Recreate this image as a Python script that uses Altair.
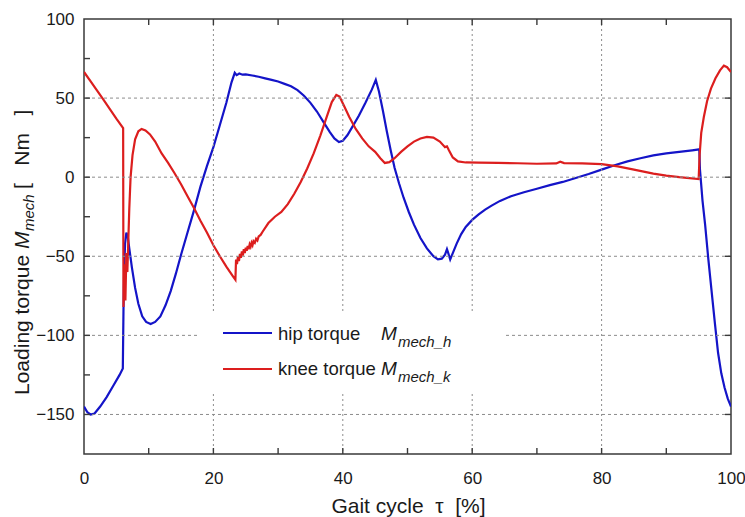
import altair as alt
import pandas as pd

# Hip loading torque over the gait cycle
hip_x = [0, 0.5, 1.0, 1.6, 2.5, 3.5, 4.5, 5.5, 6.0, 6.1, 6.2, 6.35, 6.55, 6.75, 7.0,
         7.4, 7.9, 8.4, 9.0, 9.6, 10.3, 11.0, 11.8, 12.6, 13.4, 14.2, 15.0, 16.0,
         17.0, 18.0, 19.0, 20.0, 21.0, 22.0, 22.8, 23.3, 23.6, 24.0, 24.5, 25.0,
         26.0, 27.0, 28.0, 29.0, 30.0, 31.0, 32.0, 33.0, 34.0, 35.0, 36.0, 37.0,
         38.0, 38.7, 39.4, 40.0, 40.7, 41.5, 42.5, 43.5, 44.5, 45.1, 45.6, 46.2,
         46.8, 47.4, 48.0, 48.7, 49.4, 50.2, 51.0, 52.0, 53.0, 54.0, 54.7, 55.3,
         55.8, 56.1, 56.3, 56.6, 57.0, 57.6, 58.3, 59.0, 60.0, 61.0, 62.0, 63.0,
         64.3, 66.0, 68.0, 70.0, 72.0, 74.0, 76.0, 78.0, 80.0, 82.0, 84.0, 86.0,
         88.0, 90.0, 92.0, 94.0, 95.1, 95.2, 95.6, 96.0, 96.5, 97.0, 97.5, 98.0,
         98.5, 99.0, 99.5, 100.0]
hip_y = [-145, -148.5, -150, -149.5, -145, -139, -132, -125, -121, -85, -60, -42,
         -35, -37, -45, -57, -70, -80, -88, -91.5, -92.8, -91.5, -88, -81, -72,
         -61, -49, -35, -21, -6, 7, 19, 33, 47, 60, 66, 64.5, 65.5, 64.8, 65, 64.3,
         63.5, 62.5, 61.5, 60.5, 59, 57.5, 55, 51.5, 47, 41.5, 35, 28.5, 24.5,
         22.2, 23, 26.5, 32, 39, 47, 55.5, 61.5, 54, 42, 29, 17, 6, -4, -13, -22,
         -30, -38.5, -45, -50, -52, -51.5, -49, -45.5, -48, -52, -48, -42, -36,
         -31.5, -27, -23.5, -20.5, -18, -15, -12, -9.5, -7.3, -5, -3, -0.5, 2, 4.8,
         7.5, 10, 12, 13.8, 15, 16, 17, 17.6, 5, -15, -30, -52, -72, -92, -111,
         -124, -133, -140, -145]

# Knee loading torque over the gait cycle
knee_x = [0, 1, 2, 3, 4, 5, 6.05, 6.1, 6.25, 6.4, 6.55, 6.7, 6.85, 7.0, 7.2, 7.5,
          7.9, 8.4, 8.9, 9.5, 10.2, 11.0, 12.0, 13.0, 14.0, 15.0, 16.0, 17.0, 18.0,
          19.0, 20.0, 21.0, 22.0, 23.0, 23.4,
          23.5, 23.65, 23.8, 23.95, 24.1, 24.25, 24.4, 24.55, 24.7, 24.85, 25.0,
          25.15, 25.3, 25.45, 25.6, 25.75, 25.9, 26.05, 26.2, 26.4, 26.6, 26.8,
          27.0, 27.3, 27.6,
          28.5, 29.5, 30.5, 31.5,
          32.5, 33.5, 34.5, 35.5, 36.5, 37.5, 38.3, 39.0, 39.5, 40.2, 41.0, 42.0,
          43.0, 44.0, 45.0, 45.8, 46.5, 47.2, 48.0, 49.0, 50.0, 51.0, 52.0, 53.0,
          54.0, 55.0, 55.8, 56.1, 56.4, 57.0, 57.8, 59.0, 61.0, 64.0, 67.0, 70.0,
          73.0, 73.6, 74.2, 77.0, 80.0, 82.5, 85.0, 88.0, 90.0, 92.0, 95.0, 95.15,
          95.4, 95.8, 96.3, 96.9, 97.6, 98.3, 98.9, 99.4, 100.0]
knee_y = [66.5, 60.7, 54.8, 49, 43, 37, 31, -82, -55, -78, -48, -60, -40, -20, 0,
          14, 24, 29, 30.5, 29.5, 27, 22.5, 15, 9, 2.5, -4.5, -12, -19.5, -27.5,
          -35, -43, -50, -56.5, -62.5, -64.8,
          -52, -55, -50, -53, -48.5, -51, -47, -49.5, -45.5, -48, -44.5,
          -46.5, -43.5, -45.5, -42.5, -44, -41.5, -43, -40.5, -41.5, -39, -40,
          -37.5, -36.5, -34.5,
          -29, -25, -22, -17, -10.5, -3, 5.5,
          15, 26, 38, 47.5, 52, 51, 45, 38, 30.5, 24.5, 19.5, 16, 12, 9, 9.5, 12,
          16, 19.5, 22.5, 24.5, 25.5, 25, 22.5, 19, 19.5, 17, 12.5, 10, 9.3, 9.2,
          9, 8.8, 8.5, 8.7, 9.8, 8.9, 8.7, 8.3, 6.8, 4.8, 2.3, 1, 0, -1.2, 14, 28,
          38, 48, 56, 62.5, 67.5, 70.5, 69.5, 66.5]

series_names = ["hip", "knee"]
series_colors = ["#1414c8", "#dc1e1e"]

x_grid = [20, 40, 60, 80]
y_grid = [50, 0, -50, -100, -150]
x_tick_vals = [10, 20, 30, 40, 50, 60, 70, 80, 90]
y_tick_vals = [-150, -125, -100, -75, -50, -25, 0, 25, 50, 75]
y_tick_right = [-150, -100, -50, 0, 50]
x_labels = [0, 20, 40, 60, 80, 100]
y_labels = [-150, -100, -50, 0, 50, 100]

NB = "\u00a0"
legend_labels = ["hip torque", "knee torque"]
legend_subs = ["mech_h", "mech_k"]
x_title = f"Gait cycle{NB}{NB}τ{NB}{NB}[%]"
y_title_parts = ["Loading torque", "M", "mech", f"[{NB*3}Nm{NB*3}]"]

W, H = 647, 435
FONT = "Liberation Sans"
INK = "#1a1a1a"

xs = alt.Scale(domain=[0, 100], nice=False, zero=False)
ys = alt.Scale(domain=[-175, 100], nice=False, zero=False)

# one shared axis definition per channel, reused by every layer
x_axis = alt.Axis(values=x_labels, title=None, grid=False, domain=False, ticks=False,
                  tickSize=0, labelPadding=16, labelFontSize=17, labelFont=FONT,
                  labelColor=INK, labelFlush=False)
y_axis = alt.Axis(values=y_labels, title=None, grid=False, domain=False, ticks=False,
                  tickSize=0, labelPadding=10, labelFontSize=17, labelFont=FONT,
                  labelColor=INK, labelFlush=False)

rows = []
for name, xv, yv in (("hip", hip_x, hip_y), ("knee", knee_x, knee_y)):
    for i, (a, b) in enumerate(zip(xv, yv)):
        rows.append({"series": name, "t": a, "m": b, "i": i})
df = pd.DataFrame(rows)

color_enc = alt.Color("series:N", scale=alt.Scale(domain=series_names, range=series_colors), legend=None)

lines = alt.Chart(df).mark_line(strokeWidth=2.2, clip=True).encode(
    x=alt.X("t:Q", scale=xs, axis=x_axis),
    y=alt.Y("m:Q", scale=ys, axis=y_axis),
    color=color_enc,
    detail="series:N",
    order="i:Q",
)

grid_style = dict(color="#8c8c8c", strokeWidth=1)
vgrid = alt.Chart(pd.DataFrame({"g": x_grid})).mark_rule(strokeDash=[2, 3], **grid_style).encode(
    x=alt.X("g:Q", scale=xs, axis=x_axis))
hgrid = alt.Chart(pd.DataFrame({"g": y_grid})).mark_rule(strokeDash=[3, 3], **grid_style).encode(
    y=alt.Y("g:Q", scale=ys, axis=y_axis))

one = pd.DataFrame({"a": [0]})
legend_bg = alt.Chart(one).mark_rect(fill="white").encode(
    x=alt.value(113), x2=alt.value(421), y=alt.value(294), y2=alt.value(374))

tick_style = dict(color="#3a3a3a", strokeWidth=1.4)
xt = pd.DataFrame({"v": x_tick_vals})
yt = pd.DataFrame({"v": y_tick_vals})
yr = pd.DataFrame({"v": y_tick_right})
ticks_bottom = alt.Chart(xt).mark_rule(**tick_style).encode(
    x=alt.X("v:Q", scale=xs, axis=x_axis), y=alt.value(H), y2=alt.value(H - 6))
ticks_top = alt.Chart(xt).mark_rule(**tick_style).encode(
    x=alt.X("v:Q", scale=xs, axis=x_axis), y=alt.value(0), y2=alt.value(6))
ticks_left = alt.Chart(yt).mark_rule(**tick_style).encode(
    y=alt.Y("v:Q", scale=ys, axis=y_axis), x=alt.value(0), x2=alt.value(6))
ticks_right = alt.Chart(yr).mark_rule(**tick_style).encode(
    y=alt.Y("v:Q", scale=ys, axis=y_axis), x=alt.value(W), x2=alt.value(W - 6))

# legend keys and labels
leg = pd.DataFrame({
    "series": series_names, "label": legend_labels, "sub": legend_subs,
    "ly": [314, 350], "ty": [321, 356], "sy": [328, 363],
})
leg_lines = alt.Chart(leg).mark_rule(strokeWidth=2.2).encode(
    x=alt.value(139), x2=alt.value(188), y=alt.Y("ly:Q", scale=None), color=color_enc)
leg_text = alt.Chart(leg).mark_text(align="left", baseline="alphabetic", font=FONT,
                                    fontSize=18.5, color=INK).encode(
    x=alt.value(194), y=alt.Y("ty:Q", scale=None), text="label:N")
leg_m = alt.Chart(leg).mark_text(align="left", baseline="alphabetic", font=FONT,
                                 fontSize=19, fontStyle="italic", color=INK).encode(
    x=alt.value(297), y=alt.Y("ty:Q", scale=None), text=alt.value("M"))
leg_sub = alt.Chart(leg).mark_text(align="left", baseline="alphabetic", font=FONT,
                                   fontSize=15, fontStyle="italic", color=INK).encode(
    x=alt.value(314), y=alt.Y("sy:Q", scale=None), text="sub:N")

# axis titles
xt_text = alt.Chart(one).mark_text(align="center", baseline="alphabetic", font=FONT,
                                   fontSize=21, color=INK).encode(
    x=alt.value(W / 2 + 1), y=alt.value(494), text=alt.value(x_title))

yt_df = pd.DataFrame({
    "txt": y_title_parts,
    "px": [-55, -55, -50, -55],
    "py": [376, 230, 212, 170],
    "fs": [21, 21, 15, 21],
    "st": ["normal", "italic", "italic", "normal"],
})
y_title = alt.layer(*[
    alt.Chart(yt_df.iloc[[k]]).mark_text(
        align="left", baseline="alphabetic", angle=270, font=FONT,
        fontSize=int(r.fs), fontStyle=r.st, color=INK).encode(
        x=alt.value(int(r.px)), y=alt.value(int(r.py)), text="txt:N")
    for k, r in enumerate(yt_df.itertuples())
])

chart = alt.layer(
    lines, vgrid, hgrid, legend_bg,
    ticks_bottom, ticks_top, ticks_left, ticks_right,
    leg_lines, leg_text, leg_m, leg_sub, xt_text, y_title,
).properties(
    width=W, height=H,
    autosize=alt.AutoSizeParams(type="none"),
    padding={"left": 84, "top": 19, "right": 14, "bottom": 63},
).configure_view(stroke="#3a3a3a", strokeWidth=1.5)

chart.save("out.html", embed_options={"renderer": "svg", "actions": False})
